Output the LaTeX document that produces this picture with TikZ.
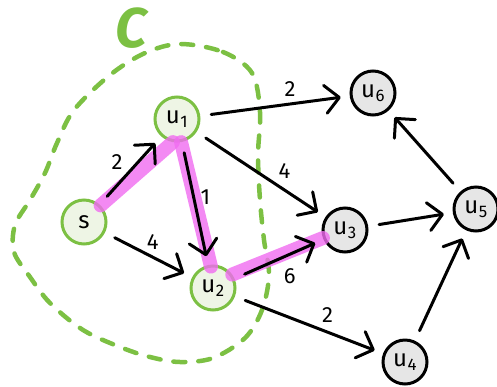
\documentclass[tikz,border=0pt]{standalone}
\usepackage{fontspec}
\setmainfont{Fira Sans}
\usetikzlibrary{arrows.meta}
\definecolor{cgreen}{HTML}{7CC043}
\definecolor{gfill}{HTML}{EEF5E5}
\definecolor{nfill}{HTML}{E6E6E6}
\definecolor{hl}{HTML}{F06CF0}
\newcommand{\vl}[1]{u\kern0.5pt\textsubscript{#1}}
\begin{document}
\begin{tikzpicture}[x=1pt,y=-1pt,
  vtx/.style={circle,minimum size=44pt,inner sep=0pt,line width=3pt,font=\fontsize{24}{24}\selectfont},
  gv/.style={vtx,draw=cgreen,fill=gfill},
  kv/.style={vtx,draw=black,fill=nfill},
  edge/.style={line width=3pt,line cap=round,-{Straight Barb[length=14pt,width=28pt,line width=3pt,round]},shorten <=11pt,shorten >=9pt},
  wlab/.style={font=\fontsize{22}{22}\selectfont},
  hlline/.style={line width=14pt,draw=hl,opacity=0.8,line cap=round}]
\useasboundingbox (0,0) rectangle (497,386);
% dashed cut
\draw[cgreen,line width=4.5pt,dash pattern=on 12pt off 13pt,line cap=round]
  plot[smooth cycle,tension=0.55] coordinates {(180,44) (223,52) (252,73) (260,112) (258,155) (260,200) (264,240) (269,275) (262,310) (245,338) (213,358) (180,362) (150,357) (120,347) (83,330) (50,303) (30,277) (14,252) (15,225) (30,200) (45,173) (57,143) (74,110) (110,75) (145,53)};
\node[text=cgreen,font=\fontsize{56}{56}\selectfont\bfseries\itshape] (C) at (131,28) {C};
% nodes
\node[gv] (s) at (84,222) {s};
\node[gv] (u1) at (177,119) {\vl{1}};
\node[gv] (u2) at (213,288) {\vl{2}};
\node[kv] (u3) at (345,230) {\vl{3}};
\node[kv] (u4) at (405,362) {\vl{4}};
\node[kv] (u5) at (476,209) {\vl{5}};
\node[kv] (u6) at (373,93) {\vl{6}};
% highlight
\draw[hlline] (s.45) -- (u1.-100);
\draw[hlline] (u1.-80) -- ([yshift=-2pt]u2.95);
\draw[hlline] (u2.35) -- (u3.200);
% edges
\draw[edge] (s) -- (u1) node[wlab,pos=0.45,above left=0pt] {2};
\draw[edge] (u1) -- (u2) node[wlab,pos=0.45,right=2pt] {1};
\draw[edge] (s) -- (u2) node[wlab,pos=0.45,above right=-2pt] {4};
\draw[edge] (u2) -- (u3) node[wlab,pos=0.62,below=9pt] {6};
\draw[edge] (u1) -- (u6) node[wlab,pos=0.6,above=3pt] {2};
\draw[edge] (u1) -- (u3) node[wlab,pos=0.6,above right=0pt] {4};
\draw[edge] (u2) -- (u4) node[wlab,pos=0.55,above right=1pt] {2};
\draw[edge] (u3) -- (u5);
\draw[edge] (u4) -- (u5);
\draw[edge] (u5) -- (u6);
\end{tikzpicture}
\end{document}
